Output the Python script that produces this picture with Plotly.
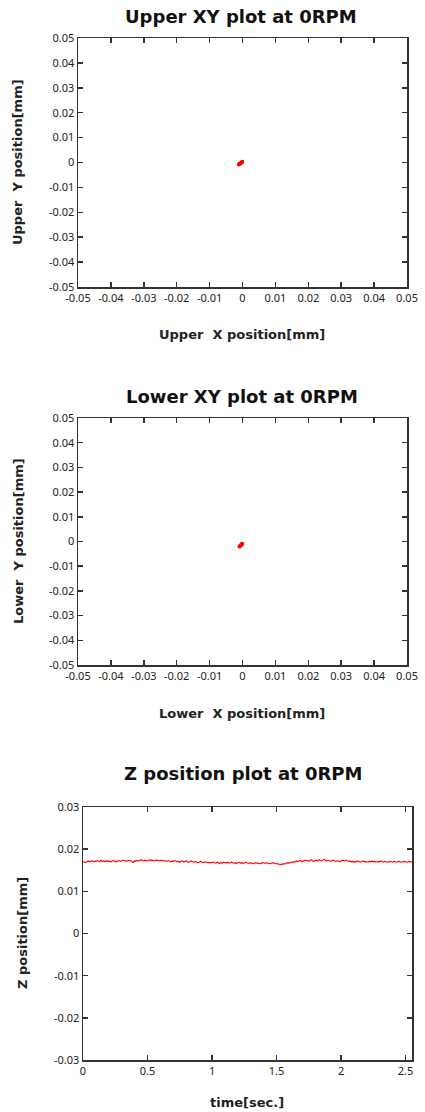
import plotly.graph_objects as go

# ---------------- data ----------------
xy_ticks = [-0.05, -0.04, -0.03, -0.02, -0.01, 0, 0.01, 0.02, 0.03, 0.04, 0.05]
xy_tick_labels = ["-0.05", "-0.04", "-0.03", "-0.02", "-0.01", "0",
                  "0.01", "0.02", "0.03", "0.04", "0.05"]

upper_x = [-0.0011, -0.0009, -0.0006, -0.0004, -0.0002, -0.0001]
upper_y = [-0.0008, -0.0005, -0.0003, -0.0001, 0.0001, 0.0003]

lower_x = [-0.0009, -0.0006, -0.0004, -0.0002, -0.0001]
lower_y = [-0.0020, -0.0016, -0.0013, -0.0011, -0.0009]

z_time_step = 0.01
z_values = [
    0.0169, 0.0170, 0.0168, 0.0171, 0.0172, 0.0170, 0.0171, 0.0173, 0.0170, 0.0172, 0.0171, 0.0173, 0.0172, 0.0170, 0.0174, 0.0171,
    0.0172, 0.0170, 0.0173, 0.0171, 0.0172, 0.0170, 0.0171, 0.0172, 0.0173, 0.0171, 0.0170, 0.0172, 0.0173, 0.0171, 0.0172, 0.0174,
    0.0172, 0.0173, 0.0171, 0.0174, 0.0172, 0.0173, 0.0170, 0.0168, 0.0173, 0.0171, 0.0174, 0.0172, 0.0173, 0.0175, 0.0173, 0.0172,
    0.0174, 0.0173, 0.0172, 0.0174, 0.0175, 0.0173, 0.0174, 0.0172, 0.0173, 0.0174, 0.0173, 0.0172, 0.0173, 0.0174, 0.0172, 0.0173,
    0.0172, 0.0171, 0.0173, 0.0172, 0.0170, 0.0172, 0.0171, 0.0173, 0.0172, 0.0170, 0.0171, 0.0169, 0.0171, 0.0172, 0.0170, 0.0171,
    0.0172, 0.0170, 0.0168, 0.0171, 0.0172, 0.0170, 0.0169, 0.0171, 0.0170, 0.0168, 0.0169, 0.0171, 0.0170, 0.0168, 0.0169, 0.0170,
    0.0168, 0.0169, 0.0167, 0.0169, 0.0168, 0.0170, 0.0168, 0.0167, 0.0169, 0.0168, 0.0166, 0.0168, 0.0167, 0.0169, 0.0168, 0.0167,
    0.0169, 0.0167, 0.0168, 0.0170, 0.0168, 0.0167, 0.0168, 0.0166, 0.0168, 0.0169, 0.0167, 0.0168, 0.0166, 0.0167, 0.0169, 0.0168,
    0.0167, 0.0166, 0.0168, 0.0167, 0.0165, 0.0167, 0.0168, 0.0166, 0.0167, 0.0165, 0.0166, 0.0168, 0.0167, 0.0166, 0.0168, 0.0166,
    0.0167, 0.0165, 0.0166, 0.0168, 0.0166, 0.0167, 0.0165, 0.0166, 0.0164, 0.0163, 0.0165, 0.0164, 0.0166, 0.0165, 0.0167, 0.0168,
    0.0167, 0.0169, 0.0170, 0.0168, 0.0171, 0.0170, 0.0172, 0.0171, 0.0173, 0.0172, 0.0170, 0.0172, 0.0174, 0.0172, 0.0173, 0.0171,
    0.0173, 0.0175, 0.0172, 0.0171, 0.0173, 0.0174, 0.0172, 0.0175, 0.0173, 0.0172, 0.0174, 0.0176, 0.0173, 0.0172, 0.0174, 0.0173,
    0.0171, 0.0173, 0.0174, 0.0172, 0.0171, 0.0173, 0.0172, 0.0170, 0.0172, 0.0174, 0.0173, 0.0172, 0.0174, 0.0173, 0.0171, 0.0172,
    0.0170, 0.0171, 0.0169, 0.0171, 0.0170, 0.0172, 0.0171, 0.0169, 0.0170, 0.0172, 0.0170, 0.0171, 0.0169, 0.0170, 0.0171, 0.0170,
    0.0172, 0.0170, 0.0171, 0.0169, 0.0170, 0.0171, 0.0170, 0.0172, 0.0170, 0.0169, 0.0171, 0.0170, 0.0169, 0.0170, 0.0171, 0.0170,
    0.0169, 0.0171, 0.0170, 0.0169, 0.0170, 0.0171, 0.0170, 0.0169, 0.0170, 0.0171, 0.0170, 0.0169, 0.0170, 0.0171, 0.0170, 0.0169,
]
z_time = [round(i * z_time_step, 2) for i in range(len(z_values))]

z_x_ticks = [0, 0.5, 1, 1.5, 2, 2.5]
z_x_tick_labels = ["0", "0.5", "1", "1.5", "2", "2.5"]
z_y_ticks = [-0.03, -0.02, -0.01, 0, 0.01, 0.02, 0.03]
z_y_tick_labels = ["-0.03", "-0.02", "-0.01", "0", "0.01", "0.02", "0.03"]

titles = ["Upper XY plot at 0RPM", "Lower XY plot at 0RPM", "Z position plot at 0RPM"]
x_titles = ["Upper\u00a0\u00a0X position[mm]", "Lower\u00a0\u00a0X position[mm]", "time[sec.]"]
y_titles = ["Upper\u00a0\u00a0Y position[mm]", "Lower\u00a0\u00a0Y position[mm]", "Z position[mm]"]

# ---------------- figure ----------------
W, H = 425, 1112
FONT = "Noto Sans"
TFONT = "DejaVu Sans"


def px(p):
    return p / W


def py(p):
    return 1 - p / H


fig = go.Figure()
fig.add_trace(go.Scatter(x=upper_x, y=upper_y, mode="markers+lines",
                         marker=dict(color="#ff0000", size=4),
                         line=dict(color="#ff0000", width=2.5),
                         xaxis="x", yaxis="y", showlegend=False))
fig.add_trace(go.Scatter(x=lower_x, y=lower_y, mode="markers+lines",
                         marker=dict(color="#ff0000", size=4),
                         line=dict(color="#ff0000", width=2.5),
                         xaxis="x2", yaxis="y2", showlegend=False))
fig.add_trace(go.Scatter(x=z_time, y=z_values, mode="lines",
                         line=dict(color="#ff0000", width=1.1),
                         xaxis="x3", yaxis="y3", showlegend=False))

axis_common = dict(
    showgrid=False, zeroline=False, showline=True, mirror="ticks",
    linecolor="#333333", linewidth=1.5, automargin=False,
    ticks="inside", ticklen=5, tickcolor="#333333", tickwidth=1.5,
    tickfont=dict(family=FONT, size=11, color="#222222"),
    ticklabeloverflow="allow",
    fixedrange=True,
)

dom_x12 = [px(78), px(407)]
dom_x3 = [px(83), px(412)]

fig.update_layout(
    template="none",
    width=W, height=H,
    margin=dict(l=0, r=0, t=0, b=0, pad=0, autoexpand=False),
    paper_bgcolor="white", plot_bgcolor="white",
    showlegend=False,
    xaxis=dict(domain=dom_x12, anchor="y", range=[-0.05, 0.05],
               tickvals=xy_ticks, ticktext=xy_tick_labels, **axis_common),
    yaxis=dict(domain=[py(287), py(38)], anchor="x", range=[-0.05, 0.05],
               tickvals=xy_ticks, ticktext=xy_tick_labels, **axis_common),
    xaxis2=dict(domain=dom_x12, anchor="y2", range=[-0.05, 0.05],
                tickvals=xy_ticks, ticktext=xy_tick_labels, **axis_common),
    yaxis2=dict(domain=[py(665), py(418)], anchor="x2", range=[-0.05, 0.05],
                tickvals=xy_ticks, ticktext=xy_tick_labels, **axis_common),
    xaxis3=dict(domain=dom_x3, anchor="y3", range=[0, 2.55],
                tickvals=z_x_ticks, ticktext=z_x_tick_labels, **axis_common),
    yaxis3=dict(domain=[py(1060), py(807)], anchor="x3", range=[-0.03, 0.03],
                tickvals=z_y_ticks, ticktext=z_y_tick_labels, **axis_common),
)

# titles
title_pos = [(241, 16), (242, 396), (243, 773)]
for t, (cx, cy) in zip(titles, title_pos):
    fig.add_annotation(text=f"<b>{t}</b>", x=px(cx), y=py(cy), xref="paper", yref="paper",
                       showarrow=False, xanchor="center", yanchor="middle",
                       font=dict(family=TFONT, size=18, color="#111111"))

xt_pos = [(242, 334), (242, 713), (247, 1102)]
for t, (cx, cy) in zip(x_titles, xt_pos):
    fig.add_annotation(text=f"<b>{t}</b>", x=px(cx), y=py(cy), xref="paper", yref="paper",
                       showarrow=False, xanchor="center", yanchor="middle",
                       font=dict(family=TFONT, size=13, color="#222222"))

yt_pos = [(18, 162), (18, 541), (22, 933)]
for t, (cx, cy) in zip(y_titles, yt_pos):
    fig.add_annotation(text=f"<b>{t}</b>", x=px(cx), y=py(cy), xref="paper", yref="paper",
                       showarrow=False, xanchor="center", yanchor="middle", textangle=-90,
                       font=dict(family=TFONT, size=13, color="#222222"))

# the page body's default 8px margin would push the 425x1112 figure out of the window
fig.write_html("out.html", config={"displayModeBar": False, "staticPlot": True},
               post_script="document.body.style.margin='0';")
